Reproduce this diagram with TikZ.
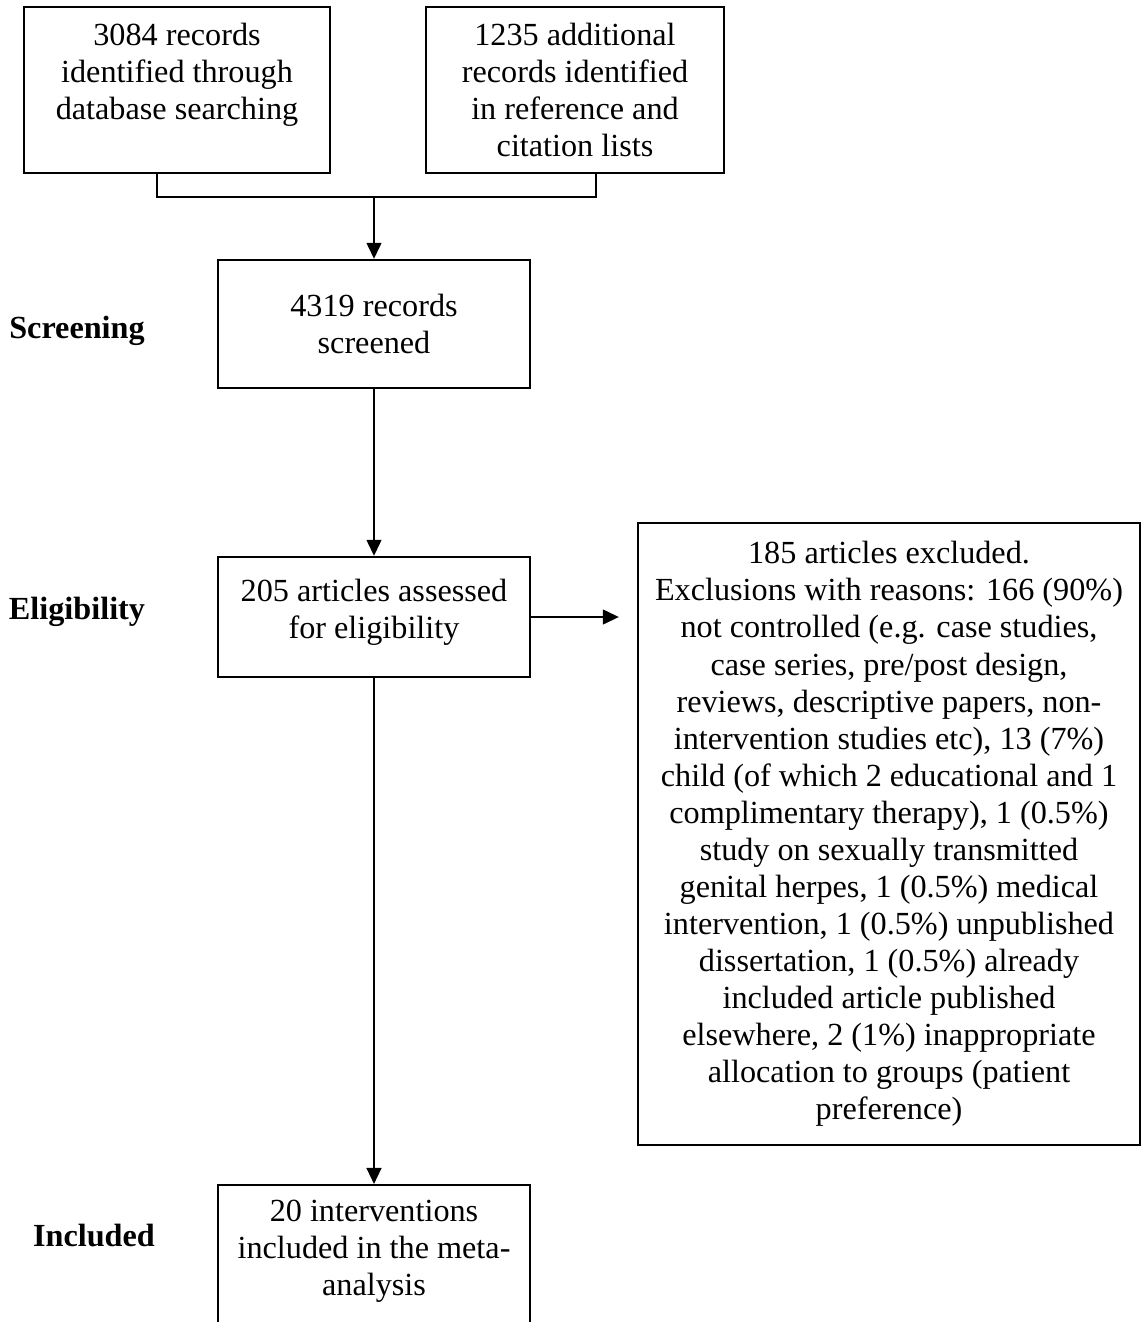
\documentclass[tikz,border=0pt]{standalone}
\usepackage{fontspec}
\setmainfont{Liberation Serif}
\usetikzlibrary{arrows.meta}
\newdimen\pxu \pxu=0.3725pt
\begin{document}
\begin{tikzpicture}[x=0.3725pt,y=-0.3725pt,line width=0.85pt]
    \tikzstyle{box}=[draw,rectangle,align=center,inner sep=0pt,font=\fontsize{12}{13.8}\selectfont];
    \tikzstyle{stage}=[align=center,inner sep=0pt,font=\fontsize{12}{13.8}\selectfont\bfseries];
    \tikzstyle{arr}=[-{Triangle[length=6pt,width=5.5pt]}];
    \clip (0,0) rectangle (1141,1322);

    \node at (177, 90)   (b1) [box,minimum width=306\pxu,minimum height=166\pxu] {3084 records\\identified through\\database searching\\\mbox{}};
    \node at (575, 90)   (b2) [box,minimum width=298\pxu,minimum height=166\pxu] {1235 additional\\records identified\\in reference and\\citation lists};
    \node at (374, 324)  (b3) [box,minimum width=312\pxu,minimum height=128\pxu] {4319 records\\screened};
    \node at (374, 617)  (b4) [box,minimum width=312\pxu,minimum height=120\pxu] {205 articles assessed\\for eligibility\\[-8pt]\mbox{}};
    \node at (889, 834)  (b5) [box,minimum width=502\pxu,minimum height=622\pxu] {185 articles excluded.\\Exclusions with reasons: 166 (90\%)\\not controlled (e.g. case studies,\\case series, pre/post design,\\reviews, descriptive papers, non-\\intervention studies etc), 13 (7\%)\\child (of which 2 educational and 1\\complimentary therapy), 1 (0.5\%)\\study on sexually transmitted\\genital herpes, 1 (0.5\%) medical\\intervention, 1 (0.5\%) unpublished\\dissertation, 1 (0.5\%) already\\included article published\\elsewhere, 2 (1\%) inappropriate\\allocation to groups (patient\\preference)};
    \node at (374, 1184) (b6) [box,anchor=north,minimum width=312\pxu,minimum height=162\pxu] {20 interventions\\included in the meta-\\analysis\\\mbox{}};

    \node at (77, 331)   (screening) [stage] {Screening};
    \node at (77, 612)   (eligibility) [stage] {Eligibility};
    \node at (94, 1236)  (included) [stage] {Included};

    \coordinate (s1) at ([xshift=-20\pxu]b1.south);
    \coordinate (s2) at ([xshift=21\pxu]b2.south);
    \coordinate (jn) at (374, 197);
    \draw (s1) |- (jn) -| (s2);
    \draw[arr] (jn) -- (b3.north);
    \draw[arr] (b3) -- (b4);
    \draw[arr,shorten >=18\pxu] (b4.east) -- (b4.east -| b5.west);
    \draw[arr] (b4) -- (b6);
\end{tikzpicture}
\end{document}
